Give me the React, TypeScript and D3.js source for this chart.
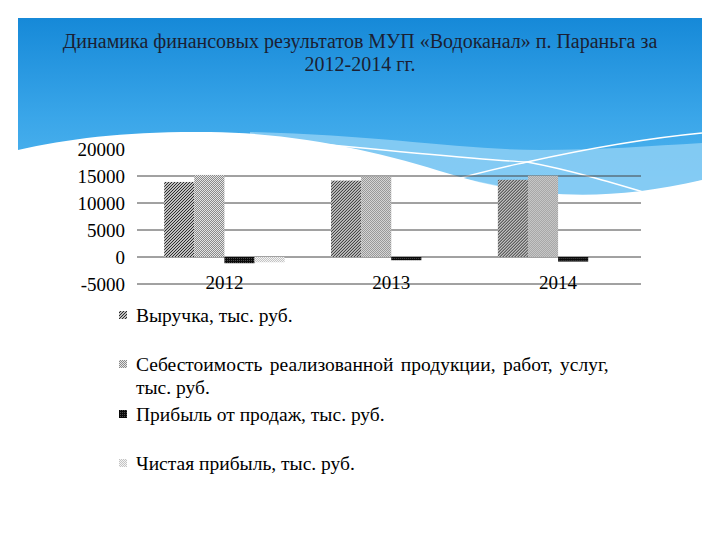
import React from "react";
import * as d3 from "d3";

const categories = ["2012", "2013", "2014"];
const seriesNames = [
  "Выручка, тыс. руб.",
  "Себестоимость реализованной продукции, работ, услуг, тыс. руб.",
  "Прибыль от продаж, тыс. руб.",
  "Чистая прибыль, тыс. руб.",
];
const revenue = [13900, 14150, 14300];
const cost = [15200, 14900, 15050];
const salesProfit = [-1150, -600, -850];
const netProfit = [-980, 0, 0];
const yTicks = [-5000, 0, 5000, 10000, 15000, 20000];
const gridTicks = [-5000, 0, 5000, 10000, 15000];
const titleLines = [
  "Динамика финансовых результатов МУП «Водоканал» п. Параньга за",
  "2012-2014 гг.",
];
const legendLines: { series: number; lines: string[] }[] = [
  { series: 0, lines: ["Выручка, тыс. руб."] },
  { series: 1, lines: ["Себестоимость реализованной продукции, работ, услуг,", "тыс. руб."] },
  { series: 2, lines: ["Прибыль от продаж, тыс. руб."] },
  { series: 3, lines: ["Чистая прибыль, тыс. руб."] },
];

const allSeries = [revenue, cost, salesProfit, netProfit];
const patternIds = ["pHatch", "pGray", "pDark", "pLight"];
const FONT = '"Liberation Serif", "Times New Roman", Times, serif';

export default function App() {
  const W = 720;
  const H = 540;
  const x0 = d3.scaleBand<string>().domain(categories).range([141, 641.5]).paddingInner(0).paddingOuter(0);
  const x1 = d3
    .scaleBand<number>()
    .domain([0, 1, 2, 3])
    .range([0, x0.bandwidth()])
    .paddingInner(0)
    .paddingOuter(0.77);
  const y = d3.scaleLinear().domain([-5000, 20000]).range([284, 149]);

  const legendY = [322, 371, 421, 470];
  const ts = { fontFamily: FONT };

  return (
    <svg width={W} height={H} style={{ position: "absolute", left: 0, top: 0, background: "#fff", fontFamily: FONT }}>
      <defs>
        <linearGradient id="bgGrad" x1="0" y1="0" x2="0" y2="1">
          <stop offset="0" stopColor="#1689d8" />
          <stop offset="0.5" stopColor="#3aa6e9" />
          <stop offset="1" stopColor="#5dbcf1" />
        </linearGradient>
        <pattern id="pHatch" width="3" height="3" patternUnits="userSpaceOnUse">
          <rect width="3" height="3" fill="#fff" />
          <path d="M-1,1 L1,-1 M0,3 L3,0 M2,4 L4,2" stroke="#222" strokeWidth="1.1" />
        </pattern>
        <pattern id="pGray" width="2" height="2" patternUnits="userSpaceOnUse">
          <rect width="2" height="2" fill="#e4e4e4" />
          <rect x="0" y="0" width="1" height="1" fill="#8a8a8a" />
          <rect x="1" y="1" width="1" height="1" fill="#8a8a8a" />
        </pattern>
        <pattern id="pDark" width="2" height="2" patternUnits="userSpaceOnUse">
          <rect width="2" height="2" fill="#0a0a0a" />
          <rect x="0" y="0" width="1" height="1" fill="#4a4a4a" />
        </pattern>
        <pattern id="pLight" width="2" height="2" patternUnits="userSpaceOnUse">
          <rect width="2" height="2" fill="#f4f4f4" />
          <rect x="0" y="0" width="1" height="1" fill="#c4c4c4" />
          <rect x="1" y="1" width="1" height="1" fill="#c4c4c4" />
        </pattern>
      </defs>

      {/* background */}
      <rect x={18} y={18} width={684} height={200} fill="url(#bgGrad)" />
      <path
        d="M250,132 C 380,135 460,150 540,150 C 600,150 650,146 702,143 L702,200 L250,200 Z"
        fill="#8dcff5"
        opacity={0.85}
      />
      <path
        d="M300,150 C 420,165 500,190 560,195 C 620,198 670,190 702,180 L702,205 L300,205 Z"
        fill="#b3e0f9"
      />
      <path
        d="M18,150 C 70,138 130,131 210,132 C 300,133 380,152 450,174 C 520,196 600,204 702,180 L702,230 L18,230 Z"
        fill="#fff"
      />
      <path d="M260,138 C 380,150 480,160 527,162 C 570,170 610,182 650,194" stroke="#fff" strokeWidth={1.3} fill="none" />
      <path d="M443,183 C 480,172 500,168 527,162 C 590,148 650,138 702,133" stroke="#fff" strokeWidth={1.3} fill="none" />

      {/* title */}
      {titleLines.map((t, i) => (
        <text
          key={i}
          x={360}
          y={48 + i * 23}
          textAnchor="middle"
          style={ts}
          fontSize={20}
          fill="#1b1f33"
        >
          {t}
        </text>
      ))}

      {/* gridlines */}
      {gridTicks.map((t) => (
        <line key={t} x1={137} x2={641} y1={y(t)} y2={y(t)} stroke="#444" strokeWidth={1} />
      ))}

      {/* bars */}
      {categories.map((c, ci) => (
        <g key={c} transform={`translate(${x0(c)},0)`}>
          {allSeries.map((s, si) => {
            const v = s[ci];
            const top = Math.min(y(v), y(0));
            const h = Math.abs(y(v) - y(0));
            return (
              <rect
                key={si}
                x={x1(si)}
                y={top}
                width={x1.bandwidth()}
                height={h}
                fill={`url(#${patternIds[si]})`}
              />
            );
          })}
        </g>
      ))}

      {/* y axis labels */}
      {yTicks.map((t) => (
        <text key={t} x={125} y={y(t)} dy="0.35em" textAnchor="end" style={ts} fontSize={19} fill="#000">
          {t}
        </text>
      ))}

      {/* x labels */}
      {categories.map((c) => (
        <text
          key={c}
          x={(x0(c) as number) + x0.bandwidth() / 2}
          y={289}
          textAnchor="middle"
          style={ts}
          fontSize={19}
          fill="#000"
        >
          {c}
        </text>
      ))}

      {/* legend */}
      {legendLines.map((l, i) => (
        <g key={i}>
          <rect x={119} y={legendY[i] - 11} width={8} height={8} fill={`url(#${patternIds[l.series]})`} />
          {l.lines.map((line, j) => (
            <text
              key={j}
              x={136}
              y={legendY[i] + j * 23}
              style={ts}
              fontSize={19.5}
              fill="#000"
              wordSpacing={j === 0 && l.lines.length > 1 ? 2.5 : 0}
            >
              {line}
            </text>
          ))}
        </g>
      ))}
    </svg>
  );
}
